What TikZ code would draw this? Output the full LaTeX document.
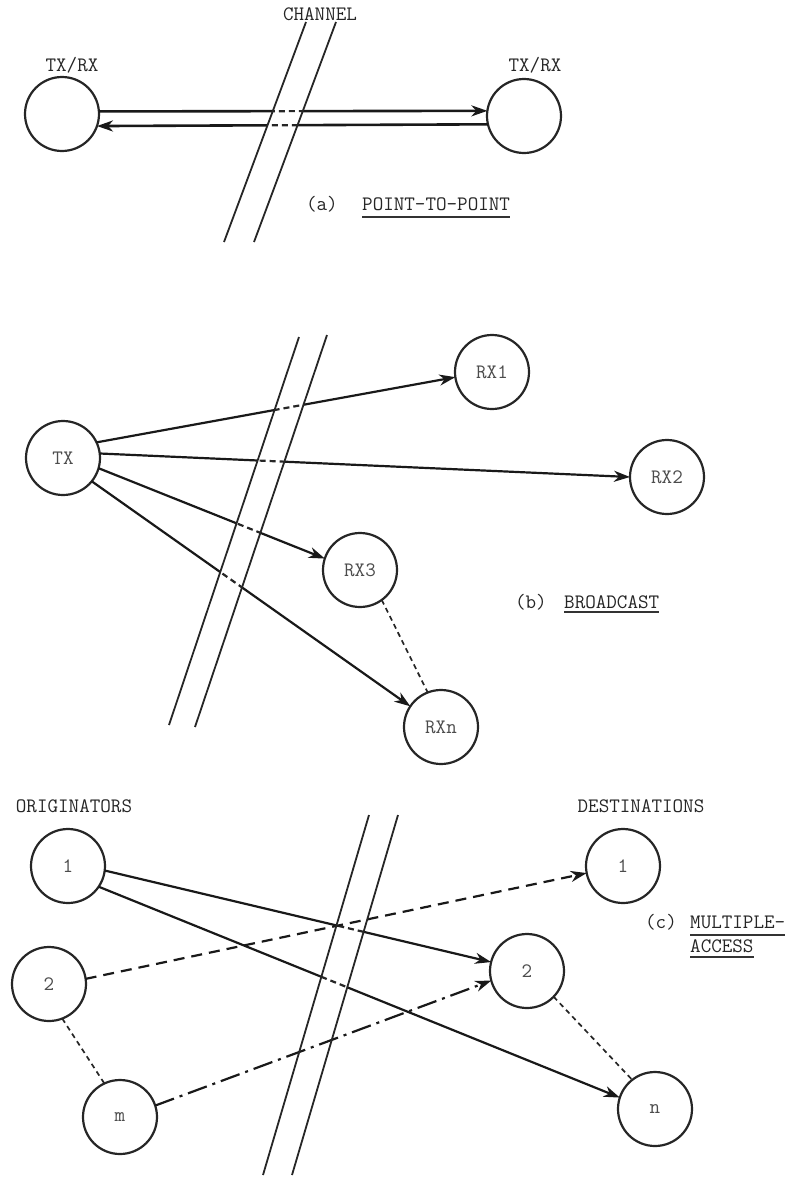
\documentclass[tikz,border=0pt]{standalone}
\usetikzlibrary{arrows.meta}
\newcommand\ttlabel{\ttfamily\fontsize{20.5}{22}\selectfont}
\begin{document}
\begin{tikzpicture}[x=1pt,y=-1pt,
  station/.style={circle, draw=black!85, line width=2.2pt, minimum size=74pt,
    inner sep=0pt, outer sep=0pt, font=\ttlabel, text=black!70},
  lbl/.style={font=\ttlabel, text=black!85, inner sep=0pt, anchor=base},
  capt/.style={lbl, anchor=base west},
  uline/.style={line width=1.2pt, draw=black!80},
  tipstyle/.style={-{Stealth[length=16pt,width=11pt,inset=5pt]}},
  sig/.style={draw=black!90, line width=2.2pt, tipstyle},
  sigthick/.style={sig, line width=2.6pt},
  inchannel/.style={draw=black!85, line width=2.2pt, dash pattern=on 6pt off 4pt},
  link/.style={draw=black!85, line width=1.7pt, dash pattern=on 5pt off 4pt},
  dashsig/.style={sig, dash pattern=on 11pt off 7pt},
  dotdashsig/.style={sig, dash pattern=on 20pt off 6pt on 3pt off 6pt},
  chan/.style={draw=black!85, line width=1.8pt}
]
\useasboundingbox (0,0) rectangle (795,1178);

% ---- channel walls (end points) ----
\coordinate (a1t) at (306,22);  \coordinate (a1b) at (224,242);
\coordinate (a2t) at (336,22);  \coordinate (a2b) at (254,242);
\coordinate (b1t) at (299,337); \coordinate (b1b) at (169,725);
\coordinate (b2t) at (327,335); \coordinate (b2b) at (195,727);
\coordinate (c1t) at (369,815); \coordinate (c1b) at (263,1175);
\coordinate (c2t) at (398,815); \coordinate (c2b) at (292,1175);

% ---- (a) point-to-point ----
\node[lbl] (chanlbl) at (320,20) {CHANNEL};
\node[lbl] (ltr) at (72,71) {TX/RX};
\node[lbl] (rtr) at (535,71) {TX/RX};
\node[station] (L) at (62,114) {};
\node[station] (R) at (524,116) {};
\node[lbl, anchor=base east] (capa) at (338,210) {(a)};
\node[capt] (tita) at (362,210) {POINT-TO-POINT};
\draw[uline] ([yshift=-7pt]tita.base west) -- ([yshift=-7pt]tita.base east);

% ---- (b) broadcast ----
\node[station] (TX)  at (63,458)  {TX};
\node[station] (RX1) at (492,372) {RX1};
\node[station] (RX2) at (667,477) {RX2};
\node[station] (RX3) at (360,570) {RX3};
\node[station] (RXn) at (441,727) {RXn};
\node[lbl, anchor=base east] (capb) at (547,608) {(b)};
\node[capt] (titb) at (564,608) {BROADCAST};
\draw[uline] ([yshift=-4pt]titb.base west) -- ([yshift=-4pt]titb.base east);

% ---- (c) multiple access ----
\node[lbl] (orig) at (74,812) {ORIGINATORS};
\node[lbl] (dest) at (641,812) {DESTINATIONS};
\node[station] (O1) at (68,866)  {1};
\node[station] (O2) at (49,984)  {2};
\node[station] (Om) at (120,1117) {m};
\node[station] (D1) at (623,866) {1};
\node[station] (D2) at (527,971) {2};
\node[station] (Dn) at (655,1109) {n};
\node[lbl, anchor=base east] (capc) at (677,928) {(c)};
\node[capt] (titc1) at (690,928) {MULTIPLE-};
\node[capt] (titc2) at (690,952) {ACCESS};
\draw[uline] ([yshift=-7pt]titc1.base west) -- ([yshift=-7pt]titc1.base east);
\draw[uline] ([yshift=-5pt]titc2.base west) -- ([yshift=-5pt]titc2.base east);

% ---- signals that pass through a channel ----
\def\crossing{L.4/R.172, R.193/L.-19, TX.25/RX1.188, TX.7/RX2.180,
  TX.-16/RX3.162, TX.-39/RXn.146, O1.-7/D2.166, O1.-34/Dn.162}
\draw[sigthick] (L.4) -- (R.172);
\draw[sigthick] (R.193) -- (L.-19);
\foreach \s/\t in {TX.25/RX1.188, TX.7/RX2.180, TX.-16/RX3.162,
  TX.-39/RXn.146, O1.-7/D2.166, O1.-34/Dn.162}
  \draw[sig] (\s) -- (\t);

% inside the channel the signals are shown broken
\fill[white] (a1t) -- (a2t) -- (a2b) -- (a1b) -- cycle;
\fill[white] (b1t) -- (b2t) -- (b2b) -- (b1b) -- cycle;
\fill[white] (c1t) -- (c2t) -- (c2b) -- (c1b) -- cycle;
\begin{scope}
  \clip (a1t) -- (a2t) -- (a2b) -- (a1b) -- cycle
        (b1t) -- (b2t) -- (b2b) -- (b1b) -- cycle
        (c1t) -- (c2t) -- (c2b) -- (c1b) -- cycle;
  \foreach \s/\t in \crossing
    \draw[inchannel] (\s) -- (\t);
\end{scope}

% ---- other connectors ----
\draw[link] (RX3.-54) -- (RXn.111);
\draw[link] (O2.-69) -- (Om.115);
\draw[link] (D2.-44) -- (Dn.128);
\draw[dashsig] (O2.8) -- (D1.191);
\draw[dotdashsig] (Om.18) -- (D2.195);

% ---- channel walls ----
\draw[chan] (a1t) -- (a1b);
\draw[chan] (a2t) -- (a2b);
\draw[chan] (b1t) -- (b1b);
\draw[chan] (b2t) -- (b2b);
\draw[chan] (c1t) -- (c1b);
\draw[chan] (c2t) -- (c2b);
\end{tikzpicture}
\end{document}
